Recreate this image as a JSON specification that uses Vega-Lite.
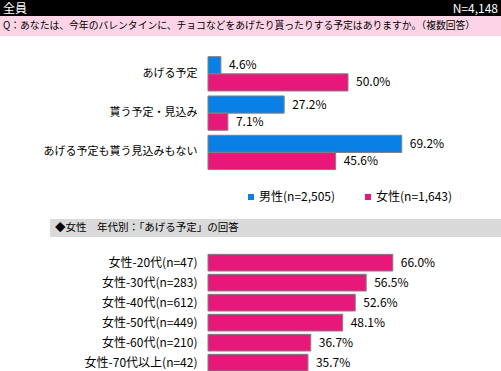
{
  "$schema": "https://vega.github.io/schema/vega-lite/v6.json",
  "padding": 0,
  "background": "white",
  "spacing": 0,
  "bounds": "flush",
  "config": {
    "view": {"stroke": null},
    "font": "Noto Sans CJK JP",
    "concat": {"spacing": 0}
  },
  "vconcat": [
    {
      "width": 501,
      "height": 16,
      "view": {"fill": "#000000", "stroke": null},
      "data": {"values": [{"title": "全員", "n": "N=4,148"}]},
      "layer": [
        {
          "mark": {"type": "text", "align": "left", "baseline": "middle", "dy": 0.5, "color": "#ffffff", "fontSize": 12, "font": "Noto Sans CJK JP"},
          "encoding": {
            "x": {"datum": -0.732143, "type": "quantitative", "scale": {"domain": [-0.742857, 1.046429], "nice": false, "zero": false}, "axis": null},
            "text": {"field": "title"}
          }
        },
        {
          "mark": {"type": "text", "align": "right", "baseline": "middle", "dy": 0.5, "color": "#ffffff", "fontSize": 12, "font": "Noto Sans CJK JP"},
          "encoding": {
            "x": {"datum": 1.035714, "type": "quantitative", "scale": {"domain": [-0.742857, 1.046429], "nice": false, "zero": false}, "axis": null},
            "text": {"field": "n"}
          }
        }
      ]
    },
    {
      "width": 501,
      "height": 20,
      "view": {"fill": "#FCD4E6", "stroke": null},
      "data": {"values": [{"q": "Q：あなたは、今年のバレンタインに、チョコなどをあげたり貰ったりする予定はありますか。（複数回答）"}]},
      "mark": {"type": "text", "align": "left", "baseline": "middle", "color": "#000000", "fontSize": 9.8, "font": "Noto Sans CJK JP"},
      "encoding": {
        "x": {"datum": -0.732143, "type": "quantitative", "scale": {"domain": [-0.742857, 1.046429], "nice": false, "zero": false}, "axis": null},
        "text": {"field": "q"}
      }
    },
    {
      "width": 501,
      "height": 183,
      "data": {"values": [
        {"item": "あげる予定", "group": "男性(n=2,505)", "value": 0.046},
        {"item": "あげる予定", "group": "女性(n=1,643)", "value": 0.500},
        {"item": "貰う予定・見込み", "group": "男性(n=2,505)", "value": 0.272},
        {"item": "貰う予定・見込み", "group": "女性(n=1,643)", "value": 0.071},
        {"item": "あげる予定も貰う見込みもない", "group": "男性(n=2,505)", "value": 0.692},
        {"item": "あげる予定も貰う見込みもない", "group": "女性(n=1,643)", "value": 0.456}
      ]},
      "encoding": {
        "y": {
          "field": "item", "type": "nominal", "sort": null,
          "scale": {"paddingInner": 0.127, "paddingOuter": 0.892, "align": 0.295},
          "axis": {"title": null, "ticks": false, "tickSize": 0, "domain": false, "labelPadding": 0, "offset": -197, "labelFontSize": 11, "labelColor": "#000000", "labelLimit": 0, "labelFont": "Noto Sans CJK JP"}
        },
        "yOffset": {"field": "group", "type": "nominal", "sort": ["男性(n=2,505)", "女性(n=1,643)"]},
        "x": {"field": "value", "type": "quantitative", "scale": {"domain": [-0.742857, 1.046429], "nice": false, "zero": false}, "axis": null}
      },
      "layer": [
        {
          "mark": {"type": "bar", "stroke": "#808080", "strokeWidth": 1},
          "encoding": {
            "color": {
              "field": "group", "type": "nominal",
              "scale": {"domain": ["男性(n=2,505)", "女性(n=1,643)"], "range": ["#0A80E6", "#E8187A"]},
              "legend": {"title": null, "orient": "none", "legendX": 245, "legendY": 191, "direction": "horizontal", "symbolType": "square", "symbolSize": 36, "symbolStrokeWidth": 0, "labelFontSize": 12, "labelFont": "Noto Sans CJK JP", "labelColor": "#000000", "columnPadding": 26, "labelOffset": 2, "padding": 0}
            }
          }
        },
        {
          "mark": {"type": "text", "align": "left", "baseline": "middle", "dx": 8, "fontSize": 12, "color": "#000000", "font": "Noto Sans CJK JP"},
          "encoding": {"text": {"field": "value", "type": "quantitative", "format": ".1%"}}
        }
      ]
    },
    {
      "width": 501,
      "height": 18,
      "data": {"values": [{"heading": "◆女性　年代別：「あげる予定」の回答"}]},
      "layer": [
        {
          "mark": {"type": "rect", "color": "#D9D9D9"},
          "encoding": {
            "x": {"datum": -0.564286, "type": "quantitative", "scale": {"domain": [-0.742857, 1.046429], "nice": false, "zero": false}, "axis": null},
            "x2": {"datum": 1.046429}
          }
        },
        {
          "mark": {"type": "text", "align": "left", "baseline": "middle", "color": "#000000", "fontSize": 10.5, "font": "Noto Sans CJK JP"},
          "encoding": {
            "x": {"datum": -0.546429, "type": "quantitative"},
            "text": {"field": "heading"}
          }
        }
      ]
    },
    {
      "width": 501,
      "height": 134,
      "data": {"values": [
        {"item": "女性-20代(n=47)", "value": 0.660},
        {"item": "女性-30代(n=283)", "value": 0.565},
        {"item": "女性-40代(n=612)", "value": 0.526},
        {"item": "女性-50代(n=449)", "value": 0.481},
        {"item": "女性-60代(n=210)", "value": 0.367},
        {"item": "女性-70代以上(n=42)", "value": 0.357}
      ]},
      "encoding": {
        "y": {
          "field": "item", "type": "nominal", "sort": null,
          "scale": {"paddingInner": 0.165, "paddingOuter": 0.4325, "align": 1},
          "axis": {"title": null, "ticks": false, "tickSize": 0, "domain": false, "labelPadding": 0, "offset": -197, "labelFontSize": 12, "labelColor": "#000000", "labelLimit": 0, "labelFont": "Noto Sans CJK JP"}
        },
        "x": {"field": "value", "type": "quantitative", "scale": {"domain": [-0.742857, 1.046429], "nice": false, "zero": false}, "axis": null}
      },
      "layer": [
        {"mark": {"type": "bar", "color": "#E8187A", "stroke": "#808080", "strokeWidth": 1}},
        {
          "mark": {"type": "text", "align": "left", "baseline": "middle", "dx": 8, "fontSize": 12, "color": "#000000", "font": "Noto Sans CJK JP"},
          "encoding": {"text": {"field": "value", "type": "quantitative", "format": ".1%"}}
        }
      ]
    }
  ]
}
